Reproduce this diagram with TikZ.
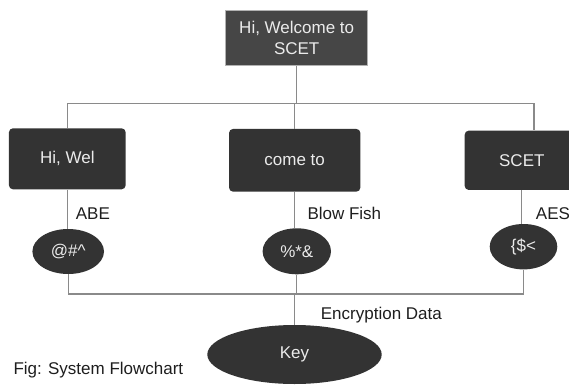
\documentclass[tikz,border=0pt]{standalone}
\usepackage{fontspec}
\setmainfont{Liberation Sans}
\usetikzlibrary{arrows.meta,positioning,shapes.geometric}
\definecolor{boxfill}{HTML}{333333}
\definecolor{topfill}{HTML}{464646}
\definecolor{linegray}{HTML}{8A8A8A}
\definecolor{inkgray}{HTML}{1E1E1E}

\begin{document}
\begin{tikzpicture}[x=1pt,y=-1pt,
  font=\fontsize{17}{20.7}\selectfont,
  link/.style={draw=linegray,line width=1.1pt},
  part/.style={rectangle,rounded corners=4pt,fill=boxfill,text=white!92!black,inner sep=0pt},
  cipher/.style={ellipse,fill=boxfill,text=white!92!black,inner sep=0pt},
  tag/.style={anchor=base west,inner sep=0pt,text=inkgray}]

\useasboundingbox (0,0) rectangle (569,385);

% message
\node[rectangle,fill=topfill,draw=gray!60,line width=0.8pt,text=white!92!black,
  align=center,minimum width=142pt,minimum height=55pt,inner sep=0pt] (msg) at (296.7,38.2) {Hi, Welcome to\\SCET};

% parts of the message
\node[part,minimum width=116.7pt,minimum height=61pt] (hiwel) at (67.3,158.8) {Hi, Wel};
\node[part,minimum width=131.3pt,minimum height=62.7pt] (cometo) at (294.7,160.3) {come to};
\node[part,minimum width=114.2pt,minimum height=59.3pt] (scet) at (521.8,160.3) {SCET};

% encrypted parts
\node[cipher,minimum width=71.6pt,minimum height=45pt] (abe) at (68.2,251.5) {@\#\textasciicircum};
\node[cipher,minimum width=68.4pt,minimum height=46pt] (bf) at (296.8,251.3) {\%*\&};
\node[cipher,minimum width=67.6pt,minimum height=45.4pt] (aes) at (523.5,246.7) {\{\$<};
\node[cipher,minimum width=174.4pt,minimum height=59pt] (key) at (294.5,354.5) {Key};

% split
\coordinate (split) at (534,103.3);
\draw[link] (hiwel.north) |- (split) -- (split |- scet.north);
\draw[link] (msg.south) -- (msg.south |- split);
\draw[link] (cometo.north) -- (cometo.north |- split);

% encryption
\draw[link] (hiwel.south) -- (hiwel.south |- abe.north);
\draw[link] (cometo.south) -- (cometo.south |- bf.north);
\draw[link] (scet.south) -- (scet.south |- aes.north);

% merge
\coordinate (merge) at (294.5,294);
\draw[link] (abe.south) |- (merge);
\draw[link] (aes.south) |- (merge);
\draw[link] (bf.south) -- (bf.south |- merge);
\draw[link] (merge) -- (key.north);

% labels
\node[tag] (lblabe) at (75.7,219.3) {ABE};
\node[tag] (lblbf) at (307.3,219) {Blow Fish};
\node[tag] (lblaes) at (535.7,219.3) {AES};
\node[tag] (lblenc) at (320.7,319.3) {Encryption Data};
\node[tag] (caption) at (13.3,374.3) {Fig: System Flowchart};

\end{tikzpicture}
\end{document}
